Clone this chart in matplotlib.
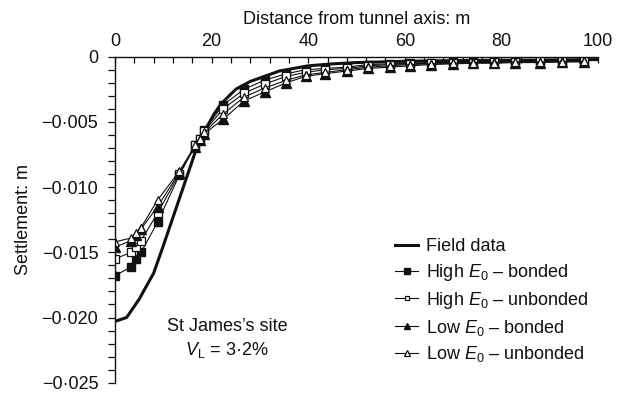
import matplotlib
matplotlib.use("Agg")
import matplotlib.pyplot as plt
from matplotlib.ticker import MultipleLocator, FuncFormatter

plt.rcParams['font.family'] = ['Liberation Sans', 'DejaVu Sans']
plt.rcParams['mathtext.fontset'] = 'custom'
plt.rcParams['mathtext.rm'] = 'Liberation Sans'
plt.rcParams['mathtext.it'] = 'Liberation Sans:italic'

# Field measurements (distance m, settlement m)
field_x = [0, 2.4, 5, 8, 10, 13.5, 17, 19, 20.5, 22, 25, 28, 31, 34, 37, 40,
           45, 50, 60, 70, 80, 90, 100]
field_y = [-0.0203, -0.0200, -0.0186, -0.0166, -0.0145, -0.0107, -0.0069,
           -0.0054, -0.0044, -0.0036, -0.0025, -0.0019, -0.0015, -0.0011,
           -0.0009, -0.0007, -0.00055, -0.00045, -0.00035, -0.0003,
           -0.00028, -0.00025, -0.00022]

# Finite-element surface nodes
node_x = [0, 3.4, 4.3, 5.4, 8.8, 13.3, 16.6, 17.5, 18.5, 22.4, 26.7, 31,
          35.5, 39.5, 43.5, 48, 52.4, 57, 61, 65.4, 70, 74.2, 78.5, 82.8,
          88, 92.5, 97]

high_bonded = [-0.0168, -0.0161, -0.0155, -0.0150, -0.0127, -0.0091, -0.0068,
               -0.0063, -0.0056, -0.0037, -0.0025, -0.0018, -0.0013, -0.0010,
               -0.0009, -0.0008, -0.0006, -0.00055, -0.0005, -0.00045, -0.0004,
               -0.0004, -0.00035, -0.00035, -0.0003, -0.0003, -0.0003]
high_unbonded = [-0.0155, -0.0150, -0.0146, -0.0141, -0.0120, -0.0090, -0.0068,
                 -0.0063, -0.0057, -0.0040, -0.0028, -0.0021, -0.0015, -0.0012,
                 -0.0010, -0.0009, -0.0007, -0.0006, -0.00055, -0.0005,
                 -0.00045, -0.00045, -0.0004, -0.0004, -0.00035, -0.00035,
                 -0.00035]
low_bonded = [-0.0146, -0.0141, -0.0137, -0.0132, -0.0115, -0.0089, -0.0069,
              -0.0064, -0.0059, -0.0048, -0.0034, -0.0027, -0.0020, -0.0015,
              -0.0013, -0.0011, -0.0009, -0.0008, -0.0007, -0.0006, -0.00055,
              -0.0005, -0.0005, -0.00045, -0.00045, -0.0004, -0.0004]
low_unbonded = [-0.0142, -0.0139, -0.0135, -0.0131, -0.0110, -0.0088, -0.0068,
                -0.0063, -0.0058, -0.0044, -0.0031, -0.0024, -0.0018, -0.0014,
                -0.0012, -0.0010, -0.0008, -0.0007, -0.0006, -0.00055,
                -0.0005, -0.00045, -0.00045, -0.0004, -0.0004, -0.0004,
                -0.00035]

FS = 13

fig = plt.figure(figsize=(6.17, 3.94), dpi=100)
ax = fig.add_axes([115 / 617, 1 - 382.7 / 394, (598 - 115) / 617,
                   (382.7 - 56.7) / 394])

ax.plot(field_x, field_y, color='#111111', lw=2.2, label='Field data')
ax.plot(node_x, high_bonded, color='#111111', lw=0.8, marker='s', ms=6,
        mfc='#111111', mec='#111111', label=r'High $E_0$ – bonded')
ax.plot(node_x, high_unbonded, color='#111111', lw=0.8, marker='s', ms=5.5,
        mfc='white', mec='#111111', mew=0.9, label=r'High $E_0$ – unbonded')
ax.plot(node_x, low_bonded, color='#111111', lw=0.8, marker='^', ms=6.5,
        mfc='#111111', mec='#111111', label=r'Low $E_0$ – bonded')
ax.plot(node_x, low_unbonded, color='#111111', lw=0.8, marker='^', ms=6,
        mfc='white', mec='#111111', mew=0.9, label=r'Low $E_0$ – unbonded')

ax.set_xlim(0, 100)
ax.set_ylim(-0.025, 0)

for side in ('bottom', 'right'):
    ax.spines[side].set_visible(False)
for side in ('top', 'left'):
    ax.spines[side].set_linewidth(1.0)
    ax.spines[side].set_color('#111111')

ax.xaxis.set_ticks_position('top')
ax.xaxis.set_label_position('top')
ax.xaxis.set_major_locator(MultipleLocator(20))
ax.xaxis.set_minor_locator(MultipleLocator(4))
ax.tick_params(axis='x', which='both', direction='in', length=4, width=0.9,
               pad=5, labelsize=FS, colors='#111111')

ax.yaxis.set_major_locator(MultipleLocator(0.005))
ax.yaxis.set_minor_locator(MultipleLocator(0.001))
ax.tick_params(axis='y', which='both', direction='out', length=5, width=0.9,
               pad=7, labelsize=FS, colors='#111111')


def settlement_fmt(v, pos):
    if abs(v) < 1e-12:
        return '0'
    return f'{v:.3f}'.replace('-', '\u2212').replace('.', '\u00b7')


ax.yaxis.set_major_formatter(FuncFormatter(settlement_fmt))
ax.xaxis.set_major_formatter(FuncFormatter(lambda v, p: f'{v:.0f}'))

ax.set_xlabel('Distance from tunnel axis: m', fontsize=FS, labelpad=6,
              color='#111111')
ax.set_ylabel('Settlement: m', fontsize=FS, labelpad=7, color='#111111')

ax.text(23.2, -0.0207, "St James\u2019s site", fontsize=FS, ha='center',
        va='center', color='#111111')
ax.text(23.2, -0.0225, r'$V_\mathrm{L}$ = 3·2%', fontsize=FS, ha='center',
        va='center', color='#111111')

leg = ax.legend(loc='upper left', bbox_to_anchor=(395 / 617, 1 - 238 / 394),
                bbox_transform=fig.transFigure, frameon=False, fontsize=FS,
                handlelength=1.3, handletextpad=0.4, labelspacing=0.38,
                borderpad=0, borderaxespad=0, markerscale=0.65)
for t in leg.get_texts():
    t.set_color('#111111')

fig.savefig('out.png', dpi=100)
